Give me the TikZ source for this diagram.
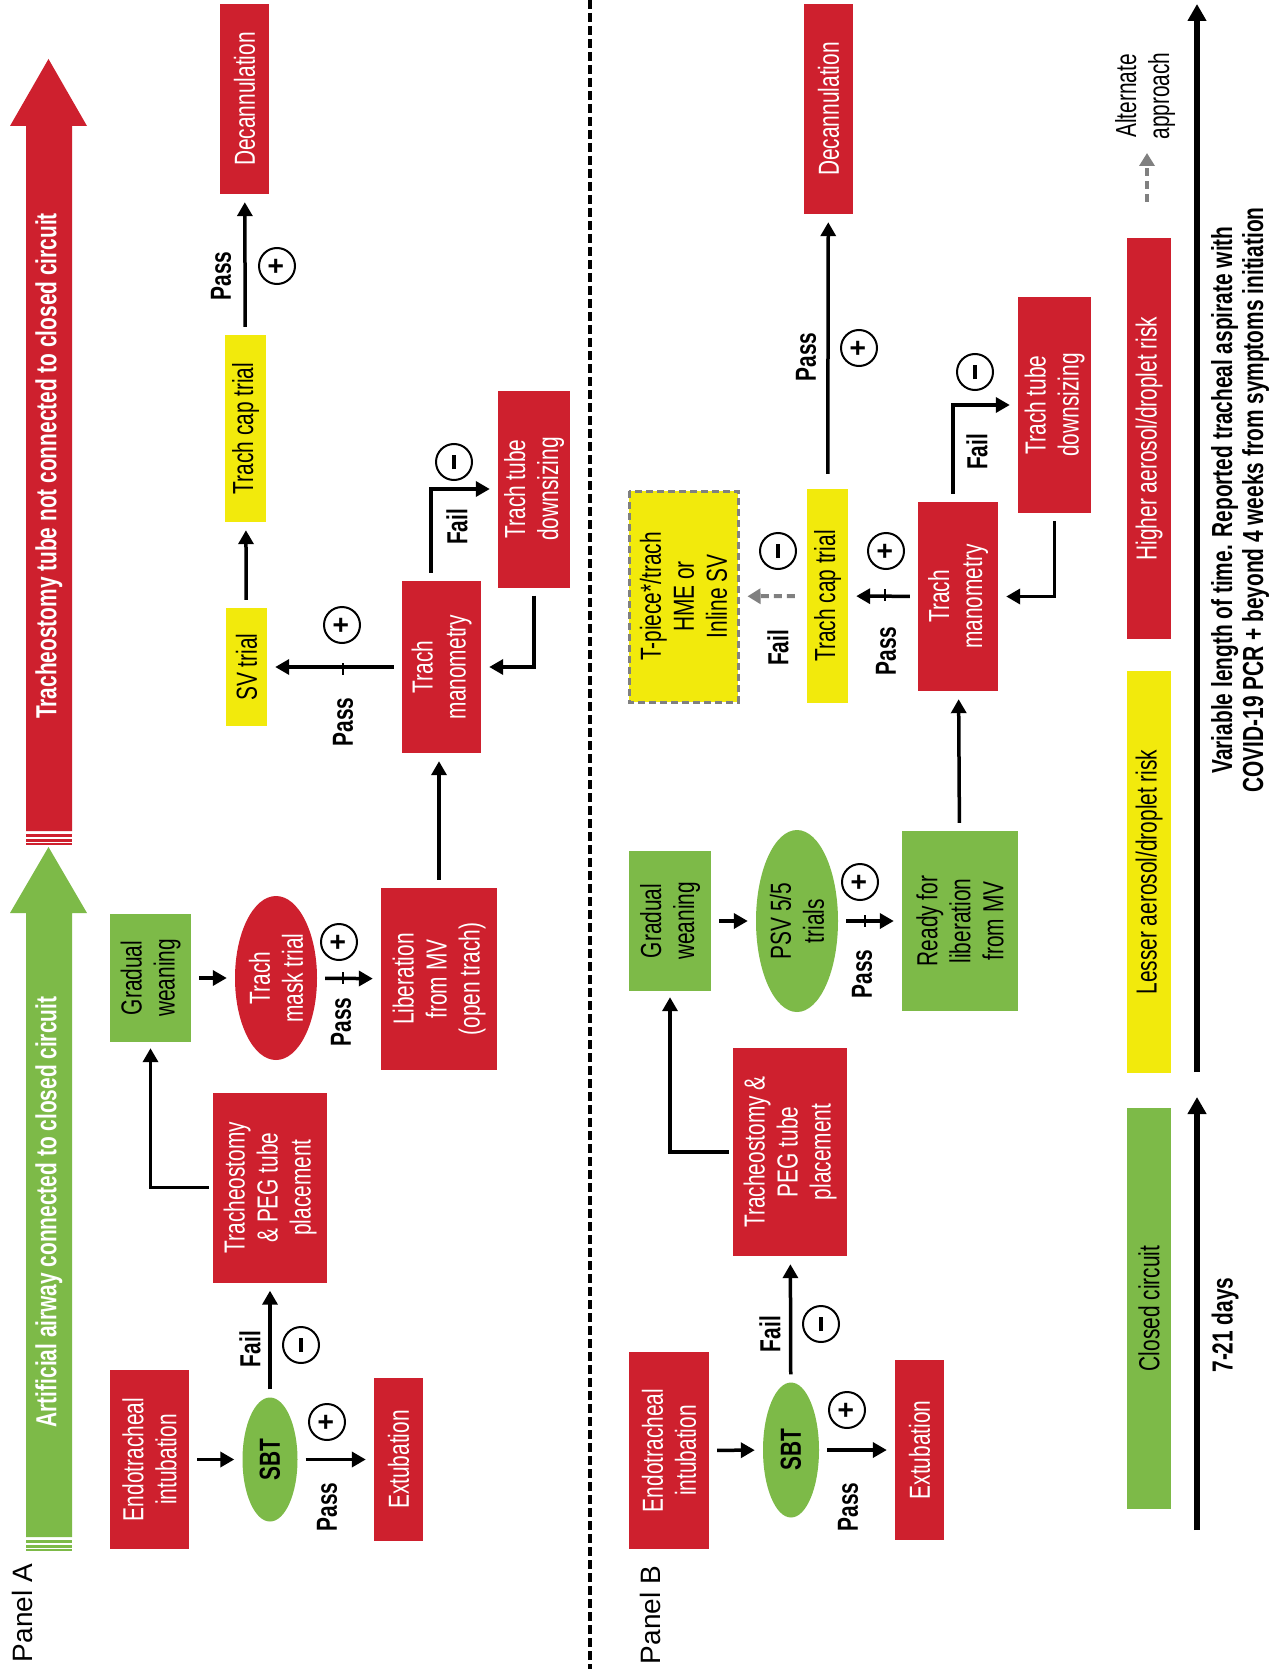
\documentclass[tikz,border=0pt]{standalone}
\usepackage{fontspec}
\setmainfont{Liberation Sans}[FakeStretch=0.72]
\newfontfamily\widefont{Liberation Sans}
\usetikzlibrary{arrows.meta, shapes.geometric}

\definecolor{boxred}{RGB}{206,32,46}
\definecolor{boxgreen}{RGB}{125,186,72}
\definecolor{boxyellow}{RGB}{242,234,12}
\definecolor{dashgray}{RGB}{128,128,128}

\tikzset{
    every node/.style={rotate=90, inner sep=0pt, font=\fontsize{29pt}{33pt}\selectfont},
    wh/.style 2 args={minimum height=#1pt, minimum width=#2pt},
    redbox/.style={rectangle, fill=boxred, text=white, align=center},
    greenbox/.style={rectangle, fill=boxgreen, text=black, align=center},
    yellowbox/.style={rectangle, fill=boxyellow, text=black, align=center},
    redoval/.style={ellipse, fill=boxred, text=white, align=center},
    greenoval/.style={ellipse, fill=boxgreen, text=black, align=center},
    lab/.style={font=\fontsize{29pt}{33pt}\selectfont\bfseries},
    bigtext/.style={text=white, font=\fontsize{29pt}{33pt}\selectfont\bfseries},
    panel/.style={font=\fontsize{28pt}{30pt}\widefont},
    sign/.style={circle, draw, line width=2pt, minimum size=36pt, font=\fontsize{28pt}{28pt}\widefont\bfseries},
    arr/.style={line width=3.5pt, -{Triangle[length=14pt,width=15pt]}, shorten <=8pt, shorten >=8pt},
    elbow/.style={arr, shorten <=4pt, shorten >=6pt},
    grayarr/.style={line width=4pt, dashgray, dash pattern=on 8pt off 5pt, -{Triangle[length=13pt,width=15pt]}},
    timearr/.style={line width=6pt, -{Triangle[length=17pt,width=18pt]}},
}

\begin{document}
\begin{tikzpicture}[x=1pt, y=-1pt]
    \path[use as bounding box, fill=white] (0,0) rectangle (1278,1669);

    % big arrows on the left
    \fill[boxgreen] (26,1537) -- (26,913) -- (10,913) -- (48.5,847) -- (87,913) -- (72,913) -- (72,1537) -- cycle;
    \foreach \a/\b in {1540/1543, 1545/1547.5, 1549/1551}
        \fill[boxgreen] (26,\a) rectangle (72,\b);
    \fill[boxred] (26,831) -- (26,126) -- (10,126) -- (48.5,59) -- (87,126) -- (72,126) -- (72,831) -- cycle;
    \foreach \a/\b in {834/837, 839/841.5, 843/845}
        \fill[boxred] (26,\a) rectangle (72,\b);
    \node[bigtext] (closedText) at (49,1212) {Artificial airway connected to closed circuit};
    \node[bigtext] (openText) at (49,466) {Tracheostomy tube not connected to closed circuit};

    % separator
    \coordinate (sepTop) at (590,0);
    \coordinate (sepBot) at (590,1669);
    \draw[line width=4pt, dash pattern=on 9pt off 4pt] (sepTop) -- (sepBot);

    % PANEL A
    \node[panel] (panelA) at (22,1613) {Panel A};
    \node[redbox, wh={79}{179}] (endoA) at (149.5,1459.5) {Endotracheal\\intubation};
    \node[greenoval, wh={55}{124}, font=\fontsize{29pt}{33pt}\selectfont\bfseries] (sbtA) at (270,1459.5) {SBT};
    \node[redbox, wh={49}{163}] (extA) at (398.5,1459.5) {Extubation};
    \node[redbox, wh={114}{190}] (trachA) at (270,1187.5) {Tracheostomy\\\& PEG tube\\placement};
    \node[greenbox, wh={81}{128}] (gwA) at (150.5,978) {Gradual\\weaning};
    \node[redoval, wh={82}{164}] (tmA) at (276,978) {Trach\\mask trial};
    \node[redbox, wh={116}{182}] (libA) at (439,979) {Liberation\\from MV\\(open trach)};
    \node[redbox, wh={79}{172}] (manA) at (441.5,667) {Trach\\manometry};
    \node[redbox, wh={72}{197}] (downA) at (534,489) {Trach tube\\downsizing};
    \node[yellowbox, wh={41}{118}] (svA) at (246.5,667) {SV trial};
    \node[yellowbox, wh={41}{187}] (capA) at (245.5,428.5) {Trach cap trial};
    \node[redbox, wh={49}{190}] (decA) at (244.5,99) {Decannulation};

    \draw[arr] (endoA) -- (sbtA);
    \draw[arr] (sbtA) -- (trachA);
    \draw[arr] (sbtA) -- (extA);
    \draw[elbow] (trachA.north) -| (gwA);
    \draw[arr] (gwA) -- (tmA);
    \draw[arr] (tmA) -- (libA);
    \draw[arr] (libA.east) -- (libA.east |- manA.west);
    \draw[arr] (manA) -- (svA);
    \draw[arr] (svA) -- (capA);
    \draw[arr] (capA) -- (decA);
    \draw[arr] ([xshift=-10.5pt]manA.east) |- (downA);
    \draw[arr] (downA.west) |- (manA);

    % PANEL B
    \node[panel] (panelB) at (650,1615) {Panel B};
    \node[redbox, wh={80}{197}] (endoB) at (669,1450.5) {Endotracheal\\intubation};
    \node[greenoval, wh={56}{135}, font=\fontsize{29pt}{33pt}\selectfont\bfseries] (sbtB) at (791,1450) {SBT};
    \node[redbox, wh={49}{180}] (extB) at (919.5,1450) {Extubation};
    \node[redbox, wh={114}{208}] (trachB) at (790,1152) {Tracheostomy \&\\PEG tube\\placement};
    \node[greenbox, wh={82}{140}] (gwB) at (670,921) {Gradual\\weaning};
    \node[greenoval, wh={82}{182}] (psvB) at (797,921) {PSV 5/5\\trials};
    \node[greenbox, wh={116}{180}] (readyB) at (960,921) {Ready for\\liberation\\from MV};
    \node[redbox, wh={80}{189}] (manB) at (958,596.5) {Trach\\manometry};
    \node[redbox, wh={73}{216}] (downB) at (1054.5,405) {Trach tube\\downsizing};
    \node[yellowbox, wh={41}{214}] (capB) at (827.5,596) {Trach cap trial};
    \node[yellowbox, wh={109}{211}, draw=dashgray, line width=3pt, dash pattern=on 7pt off 4pt] (tpB) at (683.5,596.5) {T-piece*/trach\\HME or\\Inline SV};
    \node[redbox, wh={49}{210}] (decB) at (828.5,109) {Decannulation};

    \draw[arr] (endoB) -- (sbtB);
    \draw[arr] (sbtB) -- (trachB);
    \draw[arr] (sbtB) -- (extB);
    \draw[elbow] (trachB.north) -| (gwB);
    \draw[arr] (gwB) -- (psvB);
    \draw[arr] (psvB) -- (readyB);
    \draw[arr] (readyB) -- (manB);
    \draw[arr] (manB) -- (capB);
    \draw[grayarr, shorten <=12pt, shorten >=8pt] (capB) -- (tpB);
    \draw[arr, shorten <=15pt] (capB) -- (decB);
    \draw[arr] ([xshift=-5pt]manB.east) |- (downB);
    \draw[arr] (downB.west) |- (manB);

    % pass / fail marks
    \foreach \x/\y [count=\i] in {327/1507, 341/1022, 343/722, 221/276, 848/1507, 862/974, 886/651, 806/357}
        \node[lab] (pass\i) at (\x,\y) {Pass};
    \foreach \x/\y [count=\i] in {250/1349, 457/527, 770/1334, 778/648, 977/452}
        \node[lab] (fail\i) at (\x,\y) {Fail};
    \foreach \x/\y [count=\i] in {327/1422, 339/942, 342/625, 277/266, 847/1410, 860/882, 886/551, 859/348}
        \node[sign] (plus\i) at (\x,\y) {+};
    \foreach \x/\y [count=\i] in {301/1345, 454/462, 821/1324, 778/551, 975/372}
        \node[sign] (minus\i) at (\x,\y) {\rule{14pt}{3.5pt}};
    \foreach \x/\y in {343/978, 343/669, 885/595, 865/921}
        \draw[line width=2pt] (\x,\y-6) -- (\x,\y+6);

    % LEGEND
    \node[redbox, wh={44}{401}] (highL) at (1149,438.5) {Higher aerosol/droplet risk};
    \node[yellowbox, wh={44}{402}] (lessL) at (1149,872) {Lesser aerosol/droplet risk};
    \node[greenbox, wh={44}{401}] (closedL) at (1149,1308.5) {Closed circuit};
    \node[align=center] (altText) at (1145,96) {Alternate\\approach};
    \coordinate (alt0) at (1147,202);
    \coordinate (alt1) at (1147,153);
    \draw[grayarr] (alt0) -- (alt1);

    \coordinate (early0) at (1197,1530);
    \coordinate (early1) at (1197,1097);
    \coordinate (late0) at (1197,1072);
    \coordinate (late1) at (1197,4);
    \draw[timearr] (early0) -- (early1);
    \draw[timearr] (late0) -- (late1);
    \node[lab] (earlyText) at (1225,1325) {7-21 days};
    \node[lab, align=center, font=\fontsize{29pt}{31pt}\selectfont\bfseries] (lateText) at (1240,500)
        {Variable length of time. Reported tracheal aspirate with\\COVID-19 PCR + beyond 4 weeks from symptoms initiation};
\end{tikzpicture}
\end{document}
